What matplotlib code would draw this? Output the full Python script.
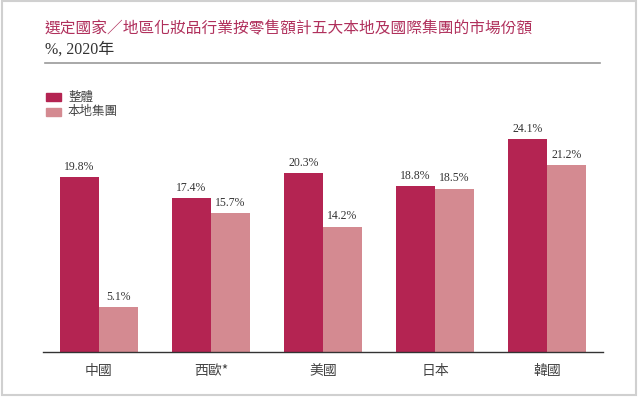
import matplotlib.pyplot as plt
import numpy as np
from matplotlib.patches import Rectangle

plt.rcParams['font.family'] = ['Noto Sans CJK TC', 'DejaVu Sans']

# Data
categories = ['中國', '西歐*', '美國', '日本', '韓國']
overall = [19.8, 17.4, 20.3, 18.8, 24.1]
local = [5.1, 15.7, 14.2, 18.5, 21.2]
series_names = ['整體', '本地集團']

title = '選定國家／地區化妝品行業按零售額計五大本地及國際集團的市場份額'
subtitle = '%, 2020年'

dark = '#B42452'
light = '#D48A91'

fig = plt.figure(figsize=(6.4, 3.98), dpi=100)

# axes: baseline at y=352px, left 43px, right 603px
ax = fig.add_axes([43 / 640, 46 / 398, 560 / 640, 232 / 398])
x = np.arange(len(categories))
w = 0.348
b1 = ax.bar(x - w / 2, overall, w, color=dark, label=series_names[0])
b2 = ax.bar(x + w / 2, local, w, color=light, label=series_names[1])
ax.set_xlim(-0.5, 4.5)
ax.set_ylim(0, 232 / 8.83)

for bars, vals in [(b1, overall), (b2, local)]:
    for r, v in zip(bars, vals):
        ax.annotate(f'{v:.1f}%', (r.get_x() + r.get_width() / 2, v),
                    xytext=(0, 3), textcoords='offset points',
                    ha='center', va='bottom', fontsize=8.5,
                    family='Liberation Serif', color='#333333')

for s in ['top', 'right', 'left']:
    ax.spines[s].set_visible(False)
ax.spines['bottom'].set_color('#333333')
ax.spines['bottom'].set_linewidth(1.0)
ax.set_yticks([])
ax.set_xticks(x)
ax.set_xticklabels(categories, fontsize=10, color='#444444')
ax.tick_params(axis='x', length=0, pad=9)

# title block
fig.text(45 / 640, 1 - 29 / 398, title, fontsize=11.3, color='#B0305C',
         ha='left', va='center', weight='medium')
fig.text(45 / 640, 1 - 50 / 398, subtitle, fontsize=11.5, color='#333333',
         ha='left', va='center', family=['Liberation Serif', 'Noto Sans CJK TC'])
fig.add_artist(plt.Line2D([45 / 640, 600 / 640], [1 - 63 / 398, 1 - 63 / 398],
                          color='#9A9A9A', lw=1.2))

# legend
for i, (name, c) in enumerate(zip(series_names, [dark, light])):
    y0 = 93 + i * 15
    fig.add_artist(Rectangle((46 / 640, 1 - (y0 + 8) / 398), 15 / 640, 8 / 398,
                             color=c, transform=fig.transFigure))
    fig.text(68 / 640, 1 - (y0 + 4) / 398, name, fontsize=9, color='#444444',
             ha='left', va='center')

# outer frame
fig.add_artist(Rectangle((2 / 640, 3 / 398), 634 / 640, 394 / 398, fill=False,
                         edgecolor='#D0D0D0', lw=1.5, transform=fig.transFigure))

plt.savefig('out.png', dpi=100)
